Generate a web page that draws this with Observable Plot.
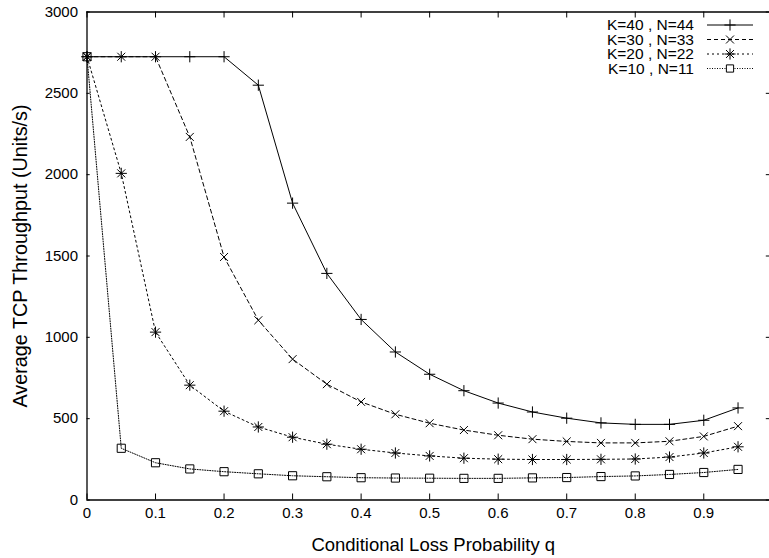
<!DOCTYPE html>
<html><head><meta charset="utf-8">
<script src="https://cdn.jsdelivr.net/npm/d3@7"></script>
<script src="https://cdn.jsdelivr.net/npm/@observablehq/plot@0.6"></script>
<style>body{margin:0;background:#fff} #chart svg{display:block}</style>
</head><body><div id="chart"></div>
<script>
// ---- data ----
const q = [0, 0.05, 0.1, 0.15, 0.2, 0.25, 0.3, 0.35, 0.4, 0.45, 0.5, 0.55, 0.6, 0.65, 0.7, 0.75, 0.8, 0.85, 0.9, 0.95];
const seriesNames = ["K=40 , N=44", "K=30 , N=33", "K=20 , N=22", "K=10 , N=11"];
const k40 = [2725, 2725, 2725, 2725, 2725, 2550, 1825, 1393, 1110, 910, 773, 672, 596, 541, 503, 474, 465, 465, 490, 566];
const k30 = [2725, 2725, 2725, 2232, 1494, 1105, 866, 712, 603, 527, 472, 430, 398, 374, 360, 351, 351, 361, 391, 454];
const k20 = [2725, 2008, 1032, 706, 546, 449, 386, 343, 312, 289, 271, 257, 251, 249, 249, 250, 252, 264, 289, 327];
const k10 = [2725, 318, 229, 191, 174, 161, 149, 143, 137, 135, 134, 133, 133, 136, 138, 144, 148, 157, 169, 188];
const xTicks = [0, 0.1, 0.2, 0.3, 0.4, 0.5, 0.6, 0.7, 0.8, 0.9];
const xTickLabels = ["0", "0.1", "0.2", "0.3", "0.4", "0.5", "0.6", "0.7", "0.8", "0.9"];
const yTicks = [0, 500, 1000, 1500, 2000, 2500, 3000];
const yTickLabels = ["0", "500", "1000", "1500", "2000", "2500", "3000"];
const xTitle = "Conditional Loss Probability q";
const yTitle = "Average TCP Throughput (Units/s)";

// ---- layout / style ----
const W = 769, H = 558, mL = 86.5, mT = 11.5, mB = 58.5, xRight = 771.8;
const frameW = xRight - mL, frameH = H - mB - mT, tick = 6;
const font = "'Liberation Sans', Arial, Helvetica, sans-serif";
const styles = [
  {dash: null, symbols: ["plus"]},
  {dash: "4,3", symbols: ["times"]},
  {dash: "2,3", symbols: ["plus", "times"]},
  {dash: "1,1.5", symbols: ["square"]}
];
const allValues = [k40, k30, k20, k10];
const rowsBySeries = allValues.map((vals, s) => vals.map((v, j) => ({q: q[j], v, s})));

const marks = [];
rowsBySeries.forEach((rows, i) => {
  marks.push(Plot.line(rows, {x: "q", y: "v", stroke: "black", strokeWidth: 1, strokeDasharray: styles[i].dash}));
});
rowsBySeries.forEach((rows, i) => {
  styles[i].symbols.forEach(sym => {
    marks.push(Plot.dot(rows, {x: "q", y: "v", symbol: sym, r: sym === "square" ? 4.6 : 3.7, stroke: "black", strokeWidth: 1, fill: "none"}));
  });
});
// frame
marks.push(Plot.ruleX([0, 1], {y1: 0, y2: 3000, stroke: "black", strokeWidth: 1.3}));
marks.push(Plot.ruleY([0, 3000], {x1: 0, x2: 1, stroke: "black", strokeWidth: 1.3}));
// inward ticks on all four sides
marks.push(Plot.tickX(xTicks, {x: d => d, insetTop: frameH - tick, stroke: "black"}));
marks.push(Plot.tickX(xTicks, {x: d => d, insetBottom: frameH - tick, stroke: "black"}));
marks.push(Plot.tickY(yTicks, {y: d => d, insetRight: frameW - tick, stroke: "black"}));
marks.push(Plot.tickY(yTicks, {y: d => d, insetLeft: frameW - tick, stroke: "black"}));
// tick labels
marks.push(Plot.axisX({ticks: xTicks, tickSize: 0, tickPadding: 7, label: null, fontSize: 15,
  tickFormat: d => xTickLabels[xTicks.indexOf(d)]}));
marks.push(Plot.axisY({ticks: yTicks, tickSize: 0, tickPadding: 9, label: null, fontSize: 15,
  tickFormat: d => yTickLabels[yTicks.indexOf(d)]}));
// axis titles
marks.push(Plot.text([xTitle], {frameAnchor: "bottom", dy: 45, dx: 5, text: d => d, fontSize: 18.5, lineAnchor: "middle", textAnchor: "middle", fill: "black"}));
marks.push(Plot.text([yTitle], {frameAnchor: "left", dx: -66.5, rotate: -90, text: d => d, fontSize: 19.8, lineAnchor: "middle", textAnchor: "middle", fill: "black"}));

const chart = Plot.plot({
  width: W, height: H,
  marginLeft: mL, marginTop: mT, marginBottom: mB, marginRight: 0,
  x: {domain: [0, 1], range: [mL, xRight]},
  y: {domain: [0, 3000], range: [H - mB, mT]},
  style: {fontFamily: font, fontSize: "15px", color: "black", background: "white", overflow: "hidden"},
  marks
});
document.getElementById("chart").appendChild(chart);

// ---- legend (inside the frame, top-right, gnuplot style) ----
const svg = d3.select(chart);
const lg = svg.append("g").attr("font-family", font).attr("font-size", 15.5);
const rowY = [25, 39.5, 54, 68.5];
const textX = 694, lineX1 = 707, lineX2 = 753, symX = 730;
const symMap = {plus: d3.symbolPlus, times: d3.symbolTimes, square: d3.symbolSquare2};
seriesNames.forEach((name, i) => {
  const y = rowY[i];
  lg.append("text").attr("x", textX).attr("y", y).attr("text-anchor", "end").attr("dy", "0.35em").attr("fill", "black").text(name);
  lg.append("line").attr("x1", lineX1).attr("x2", lineX2).attr("y1", y).attr("y2", y)
    .attr("stroke", "black").attr("stroke-width", 1).attr("stroke-dasharray", styles[i].dash);
  styles[i].symbols.forEach(sym => {
    const r = sym === "square" ? 4.6 : 3.7;
    lg.append("path").attr("d", d3.symbol(symMap[sym], Math.PI * r * r)())
      .attr("transform", `translate(${symX},${y})`).attr("fill", sym === "square" ? "white" : "none")
      .attr("stroke", "black").attr("stroke-width", 1);
  });
});
</script>
</body></html>
